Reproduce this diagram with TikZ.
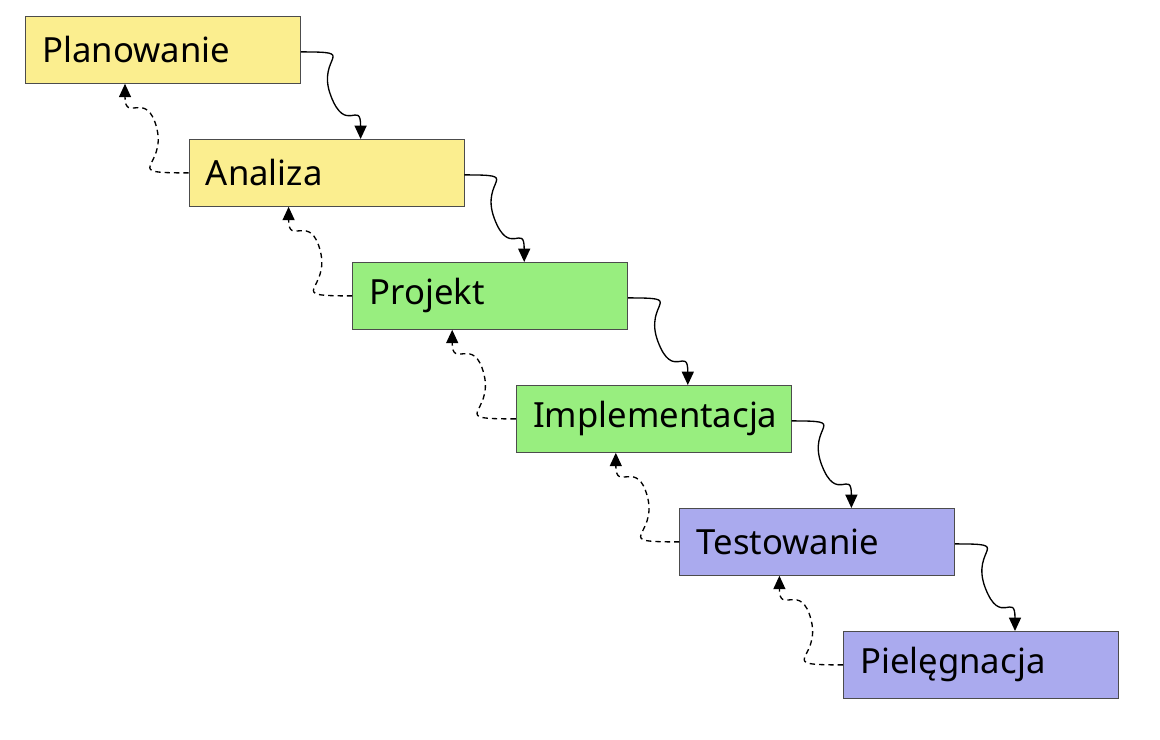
\documentclass[tikz,border=0pt]{standalone}
\usepackage{fontspec}
\setmainfont{Noto Sans}
\usetikzlibrary{arrows.meta,calc}
\definecolor{cy}{HTML}{FBEE8F}
\definecolor{cg}{HTML}{98EE7F}
\definecolor{cb}{HTML}{AAAAEE}
\begin{document}
\begin{tikzpicture}[x=0.75pt,y=-0.75pt,
  box/.style={draw=black!70,line width=0.6pt,minimum width=206.25pt,minimum height=50.25pt,inner sep=0pt,anchor=north west,font=\fontsize{26}{30}\selectfont},
  fw/.style={-{Triangle[length=10pt,width=9pt]},line width=1pt},
  bw/.style={-{Triangle[length=10pt,width=9pt]},line width=1pt,dash pattern=on 4pt off 3pt}]
\useasboundingbox (0,0) rectangle (1160,739);
\foreach \i/\t/\c/\n in {0/Planowanie/cy/b0,1/Analiza/cy/b1,2/Projekt/cg/b2,3/Implementacja/cg/b3,4/Testowanie/cb/b4,5/Pielęgnacja/cb/b5}{
  \node[box,fill=\c] (\n) at ({25+163.6*\i},{16+123*\i}) {};
  \node[anchor=west,inner sep=0pt,font=\fontsize{26}{30}\selectfont] (t\n) at ([xshift=12.75pt]\n.west) {\t};
}
\foreach \a/\b in {b0/b1,b1/b2,b2/b3,b3/b4,b4/b5}{
  \coordinate (s) at ([yshift=-1.5pt]\a.east);
  \coordinate (e) at ([xshift=129pt]\b.north west);
  \draw[fw] (s) .. controls ++(60,0) and ++(-15,-40) .. ($(s)!0.5!(e)+(0,0)$) .. controls ++(15,40) and ++(0,-40) .. (e);
  \coordinate (s2) at (\b.west);
  \coordinate (e2) at ([xshift=75pt]\a.south west);
  \draw[bw] (s2) .. controls ++(-70,0) and ++(10,40) .. ($(s2)!0.5!(e2)$) .. controls ++(-10,-40) and ++(0,40) .. (e2);
}
\end{tikzpicture}
\end{document}
